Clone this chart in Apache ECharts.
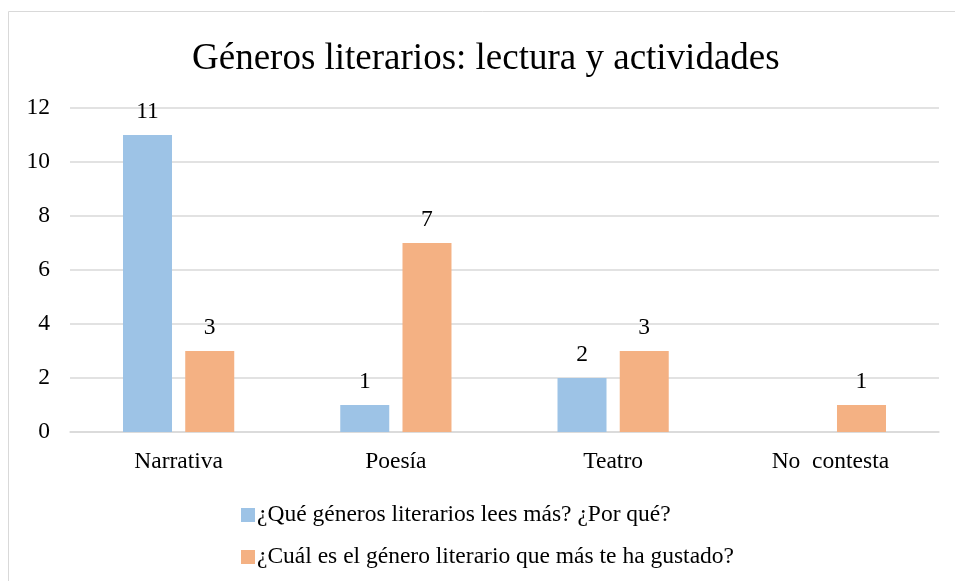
<!DOCTYPE html>
<html>
<head>
<meta charset="utf-8">
<script src="https://cdn.jsdelivr.net/npm/echarts@6/dist/echarts.min.js"></script>
<style>
  html, body { margin: 0; padding: 0; background: #fff; }
  #main { width: 955px; height: 581px; }
</style>
</head>
<body>
<div id="main"></div>
<script>
  // datos
  const categorias = ['Narrativa', 'Poesía', 'Teatro', 'No  contesta'];
  const serieLees = [11, 1, 2, null];
  const serieGustado = [3, 7, 3, 1];
  const nombres = ['¿Qué géneros literarios lees más? ¿Por qué?', '¿Cuál es el género literario que más te ha gustado?'];
  const ticksY = [0, 2, 4, 6, 8, 10, 12];

  const fuente = '"Liberation Serif", "Times New Roman", serif';
  const chart = echarts.init(document.getElementById('main'));

  const etiqueta = {
    show: true,
    position: 'top',
    distance: 11,
    color: '#000',
    fontFamily: fuente,
    fontSize: 23.5
  };

  chart.setOption({
    animation: false,
    title: {
      text: 'Géneros literarios: lectura y actividades',
      left: 187,
      top: 36,
      textStyle: { fontFamily: fuente, fontSize: 37, fontWeight: 'normal', color: '#000' }
    },
    graphic: [{
      type: 'rect',
      shape: { x: 8.5, y: 11.5, width: 960, height: 600 },
      style: { fill: 'none', stroke: '#d9d9d9', lineWidth: 1 },
      silent: true
    }],
    legend: {
      orient: 'vertical',
      left: 241,
      top: 503,
      padding: 0,
      itemWidth: 14,
      itemHeight: 14,
      itemGap: 18,
      icon: 'rect',
      textStyle: { fontFamily: fuente, fontSize: 23.5, color: '#000', padding: [0, 0, 0, -3] },
      data: nombres
    },
    grid: { left: 70, right: 16, top: 108, bottom: 149 },
    xAxis: {
      type: 'category',
      data: categorias,
      axisTick: { show: false },
      axisLine: { lineStyle: { color: '#d9d9d9', width: 1.5 } },
      axisLabel: { color: '#000', fontFamily: fuente, fontSize: 23.5, margin: 18 }
    },
    yAxis: {
      type: 'value',
      min: ticksY[0],
      max: ticksY[ticksY.length - 1],
      interval: 2,
      axisLine: { show: false },
      axisTick: { show: false },
      splitLine: { lineStyle: { color: '#d9d9d9', width: 1.5 } },
      axisLabel: { color: '#000', fontFamily: fuente, fontSize: 23.5, margin: 20 }
    },
    series: [
      {
        name: nombres[0],
        type: 'bar',
        data: serieLees,
        barWidth: 49,
        barGap: '27%',
        itemStyle: { color: '#9DC3E6' },
        label: etiqueta
      },
      {
        name: nombres[1],
        type: 'bar',
        data: serieGustado,
        barWidth: 49,
        itemStyle: { color: '#F4B183' },
        label: etiqueta
      }
    ]
  });
</script>
</body>
</html>
